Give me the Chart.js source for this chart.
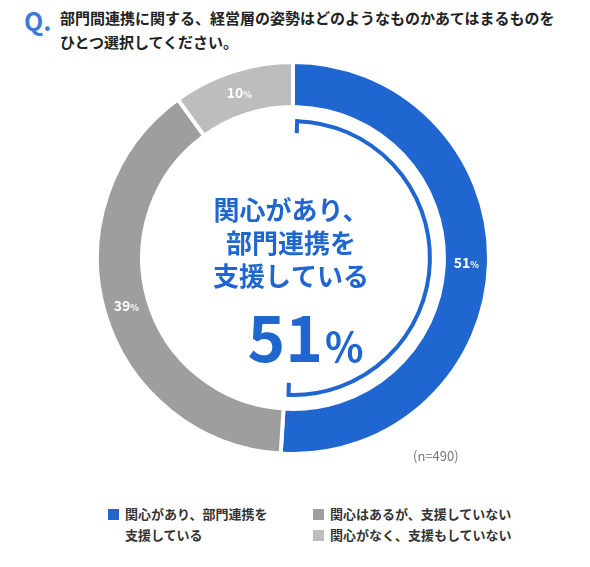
<!DOCTYPE html><html><head><meta charset="utf-8">
<script src="https://cdn.jsdelivr.net/npm/chart.js@4"></script>
<style>
body{margin:0;width:590px;height:567px;background:#fff;font-family:"Noto Sans CJK JP",sans-serif;position:relative;overflow:hidden}
.t{position:absolute;font-weight:bold;color:#222}
.lg{position:absolute;font-size:13px;font-weight:bold;color:#333;line-height:21px}
.sq{display:inline-block;width:11px;height:11px;margin-right:6px;vertical-align:-1px}
</style></head><body>
<div class="t" style="left:24px;top:2px;font-size:25px;color:#3a7bd5">Q.</div>
<div class="t" style="left:60px;top:6px;font-size:15px;line-height:24px">部門間連携に関する、経営層の姿勢はどのようなものかあてはまるものを<br>ひとつ選択してください。</div>
<div style="position:absolute;left:95px;top:60px;width:396px;height:396px"><canvas id="c"></canvas></div>
<div style="position:absolute;left:413px;top:446px;font-size:13px;color:#777">(n=490)</div>
<div class="lg" style="left:108px;top:503px"><span class="sq" style="background:#1f66d0"></span>関心があり、部門連携を<br><span style="margin-left:17px">支援している</span></div>
<div class="lg" style="left:313px;top:503px"><span class="sq" style="background:#9e9e9e"></span>関心はあるが、支援していない<br><span class="sq" style="background:#bdbdbd"></span>関心がなく、支援もしていない</div>
<script>
const categories=["関心があり、部門連携を支援している","関心はあるが、支援していない","関心がなく、支援もしていない"];
const values=[51,39,10];
const colors=["#1f66d0","#9e9e9e","#bdbdbd"];
const deco={id:'deco',afterDraw(ch){
 const c=ch.ctx,m=ch.getDatasetMeta(0);
 m.data.forEach((a,i)=>{
  const mid=(a.startAngle+a.endAngle)/2,r=(a.innerRadius+a.outerRadius)/2;
  const x=a.x+Math.cos(mid)*r,y=a.y+Math.sin(mid)*r;
  c.save();c.fillStyle='#fff';c.textBaseline='alphabetic';
  c.font='bold 14px "Noto Sans CJK JP"';const s=String(values[i]);
  const w1=c.measureText(s).width;c.font='bold 9px "Noto Sans CJK JP"';const w2=c.measureText('%').width;
  c.font='bold 14px "Noto Sans CJK JP"';c.textAlign='left';c.fillText(s,x-(w1+w2)/2,y+5);
  c.font='bold 9px "Noto Sans CJK JP"';c.fillText('%',x-(w1+w2)/2+w1,y+5);c.restore();
 });
 const a=m.data[0],R=a.innerRadius-14;
 c.save();c.strokeStyle='#1f66d0';c.lineWidth=4;c.beginPath();
 c.arc(a.x,a.y,R,a.startAngle+0.03,a.endAngle-0.03);c.stroke();
 [a.startAngle+0.03,a.endAngle-0.03].forEach(t=>{c.beginPath();c.moveTo(a.x+Math.cos(t)*(R+2),a.y+Math.sin(t)*(R+2));c.lineTo(a.x+Math.cos(t)*(R-12),a.y+Math.sin(t)*(R-12));c.stroke();});
 c.fillStyle='#1f66d0';c.textAlign='center';c.font='bold 26px "Noto Sans CJK JP"';
 ['関心があり、','部門連携を','支援している'].forEach((l,i)=>c.fillText(l,a.x-2,a.y-38+i*33));
 c.font='bold 64px "Noto Sans CJK JP"';c.textAlign='right';c.fillText(String(values[0]),a.x+30,a.y+104);
 c.font='bold 40px "Noto Sans CJK JP"';c.textAlign='left';c.fillText('%',a.x+32,a.y+104);
 c.restore();
}};
new Chart(document.getElementById('c'),{type:'doughnut',
 data:{labels:categories,datasets:[{data:values,backgroundColor:colors,borderColor:'#fff',borderWidth:4}]},
 options:{responsive:true,maintainAspectRatio:false,animation:false,cutout:'77%',
  plugins:{legend:{display:false},tooltip:{enabled:false}}},plugins:[deco]});
</script></body></html>
